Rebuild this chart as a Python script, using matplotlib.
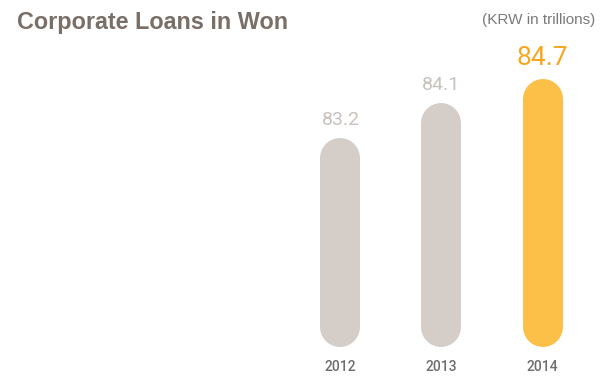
import matplotlib
matplotlib.use("Agg")
import matplotlib.pyplot as plt

years = ["2012", "2013", "2014"]
values = [83.2, 84.1, 84.7]
bar_colors = ["#d4cdc8", "#d4cdc8", "#fcbf47"]
label_colors = ["#c8c1bc", "#c8c1bc", "#f8a61c"]
label_sizes = [14, 14, 19]

title = "Corporate Loans in Won"
unit_note = "(KRW in trillions)"

W, H, DPI = 601, 376, 100
fig = plt.figure(figsize=(W / DPI, H / DPI), dpi=DPI)
ax = fig.add_axes([0, 0, 1, 1])
ax.set_axis_off()

# pixel layout of the plotting area
x0_px, step_px = 340.5, 101.0
base_px, scale_px = 347.0, 39.1  # baseline (from top) and px per trillion
base_val = 77.85
ax.set_xlim(-x0_px / step_px, (W - x0_px) / step_px)
ax.set_ylim(base_val - (H - base_px) / scale_px, base_val + base_px / scale_px)

bar_w_px = 40.0
r = (bar_w_px / 2) / scale_px
lw_pt = bar_w_px * 72 / DPI
for i, (v, c) in enumerate(zip(values, bar_colors)):
    ax.plot([i, i], [base_val + r, v - r], color=c, lw=lw_pt,
            solid_capstyle="round")
    ax.annotate(f"{v:.1f}", (i, v), xytext=(0, 9), textcoords="offset pixels",
                ha="center", va="bottom", color=label_colors[i],
                fontsize=label_sizes[i], family="Roboto", fontweight="normal")
    ax.annotate(years[i], (i, base_val), xytext=(0, -20), textcoords="offset pixels",
                ha="center", va="center", color="#6e6e6e", fontsize=10,
                family="Roboto", fontweight="medium")

fig.text(17 / W, 1 - 28.5 / H, title, ha="left", va="baseline",
         fontsize=16.8, fontweight="bold", color="#7a6f67", family="Liberation Sans")
fig.text(595 / W, 1 - 24 / H, unit_note, ha="right", va="baseline",
         fontsize=11, color="#7a7a7a", family="Liberation Sans")

fig.savefig("out.png", dpi=DPI)
